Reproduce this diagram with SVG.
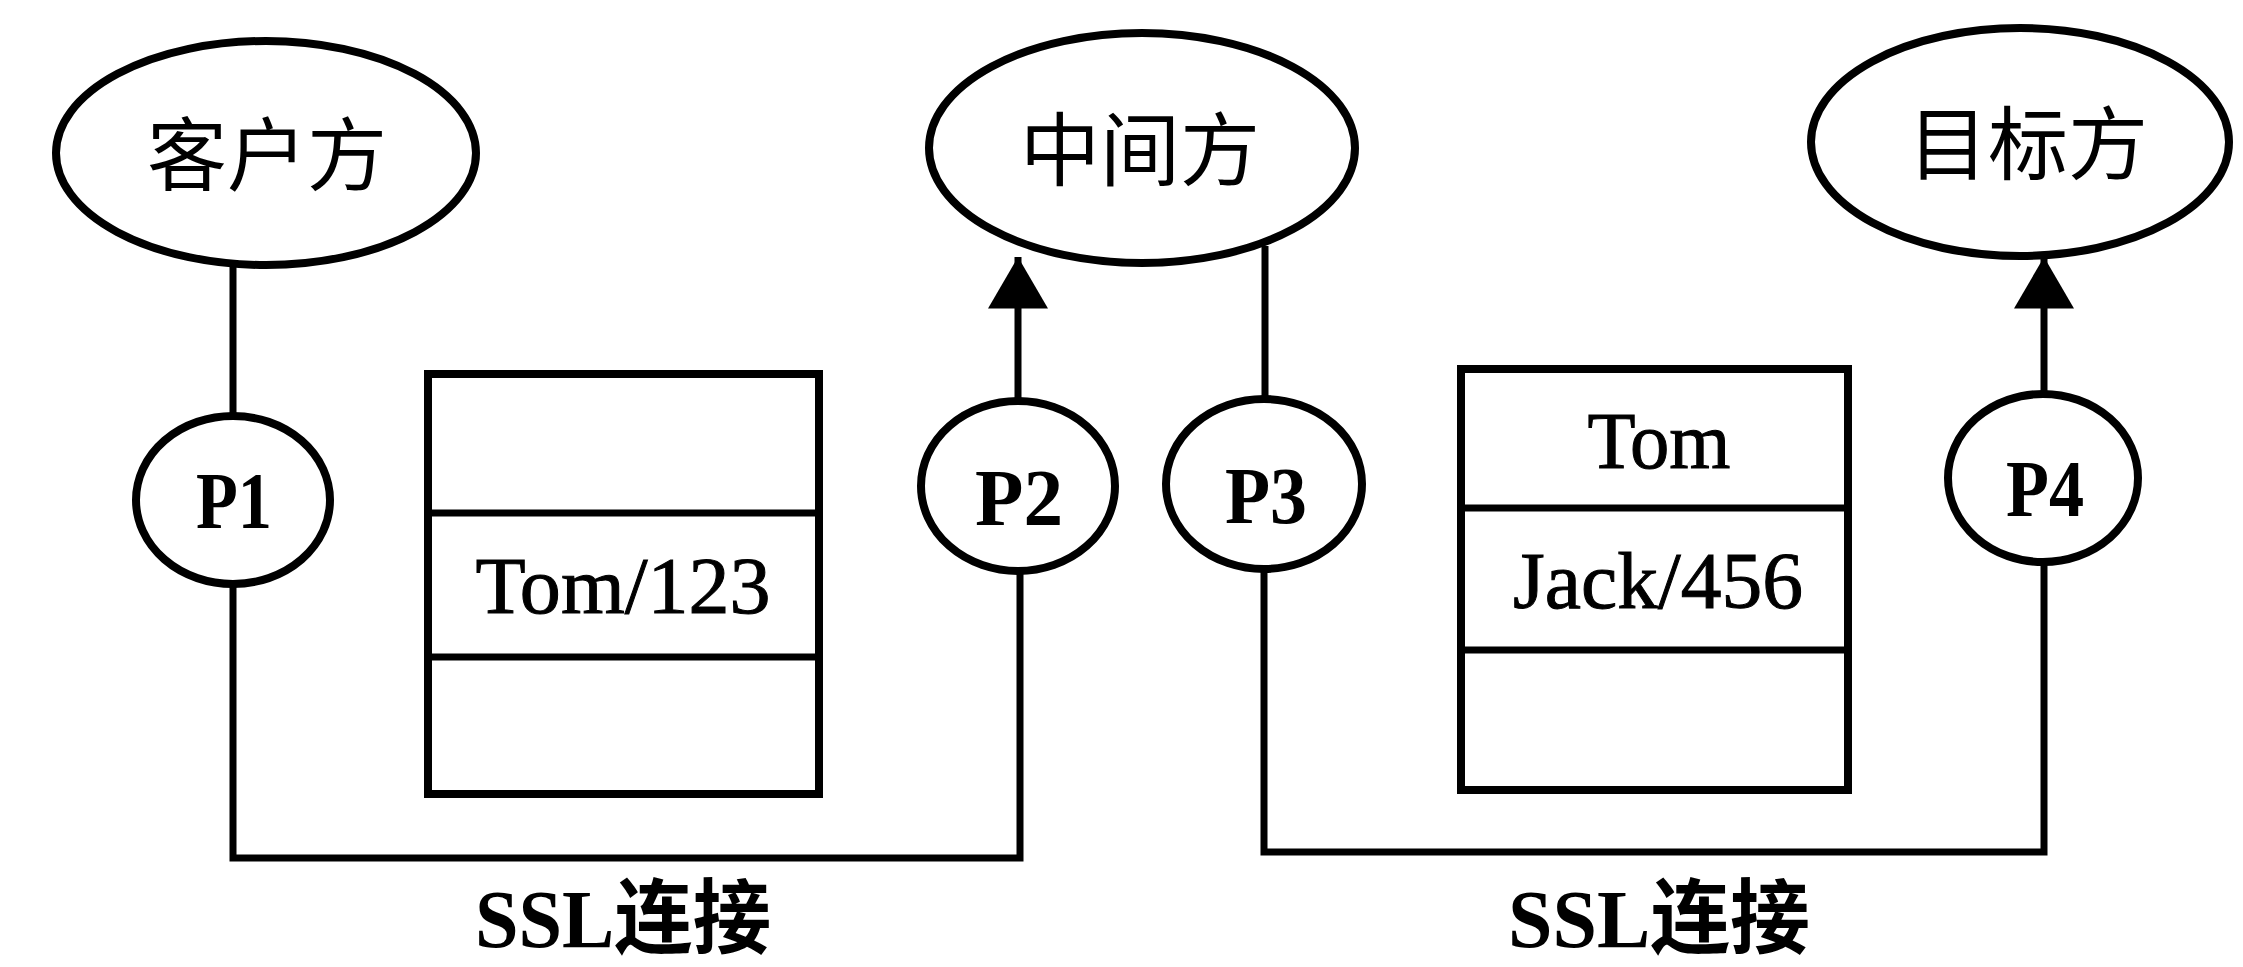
<svg xmlns="http://www.w3.org/2000/svg" width="2243" height="967" viewBox="0 0 2243 967">
<style>
.sh{fill:#fff;stroke:#000;stroke-width:8}
.ln{fill:none;stroke:#000;stroke-width:7}
.cj{font-family:"Noto Sans CJK SC","Noto Sans CJK JP",sans-serif;font-size:80px;fill:#000;text-anchor:middle}
.lt{font-family:"Liberation Serif","Noto Sans CJK SC",serif;font-size:80px;fill:#000;stroke:#000;stroke-width:1;text-anchor:middle}
.pl{font-family:"Liberation Serif",serif;font-size:80px;font-weight:bold;fill:#000;text-anchor:middle}
.ss{font-family:"Liberation Serif","Noto Sans CJK SC",serif;font-size:82px;font-weight:bold;fill:#000;text-anchor:middle}
</style>
<defs>
<marker id="ah" markerUnits="userSpaceOnUse" markerWidth="60" markerHeight="60" viewBox="0 0 48 56" refX="48" refY="28" orient="auto">
<path d="M0,0 L48,28 L0,56 Z" fill="#000"/>
</marker>
</defs>
<rect width="2243" height="967" fill="#fff"/>
<g id="connectors">
<line class="ln" x1="233" y1="262" x2="233" y2="416"/>
<line class="ln" x1="1018" y1="401" x2="1018" y2="257" marker-end="url(#ah)"/>
<line class="ln" x1="1265" y1="246" x2="1265" y2="399"/>
<line class="ln" x1="2044" y1="394" x2="2044" y2="257" marker-end="url(#ah)"/>
<path class="ln" d="M233,584 V858 H1020 V571"/>
<path class="ln" d="M1264,569 V852 H2044 V562"/>
</g>
<g id="client">
<ellipse class="sh" cx="266" cy="153" rx="210" ry="112"/>
<text class="cj" x="267" y="184">客户方</text>
</g>
<g id="middle">
<ellipse class="sh" cx="1142" cy="148" rx="213" ry="115"/>
<text class="cj" x="1140" y="179">中间方</text>
</g>
<g id="target">
<ellipse class="sh" cx="2020" cy="142" rx="209" ry="114"/>
<text class="cj" x="2028" y="173">目标方</text>
</g>
<g id="p1">
<ellipse class="sh" cx="233" cy="500" rx="97" ry="84"/>
<text class="pl" x="234" y="528" textLength="76" lengthAdjust="spacingAndGlyphs">P1</text>
</g>
<g id="p2">
<ellipse class="sh" cx="1018" cy="486" rx="97" ry="85"/>
<text class="pl" x="1019" y="525" textLength="88" lengthAdjust="spacingAndGlyphs">P2</text>
</g>
<g id="p3">
<ellipse class="sh" cx="1264" cy="484" rx="98" ry="85"/>
<text class="pl" x="1266" y="523" textLength="82" lengthAdjust="spacingAndGlyphs">P3</text>
</g>
<g id="p4">
<ellipse class="sh" cx="2043" cy="478" rx="95" ry="84"/>
<text class="pl" x="2045" y="516" textLength="78" lengthAdjust="spacingAndGlyphs">P4</text>
</g>
<g id="box1">
<rect class="sh" x="428" y="374" width="391" height="420"/>
<line class="ln" x1="428" y1="513" x2="819" y2="513"/>
<line class="ln" x1="428" y1="657" x2="819" y2="657"/>
<text class="lt" x="623" y="613" textLength="295" lengthAdjust="spacingAndGlyphs">Tom/123</text>
</g>
<g id="box2">
<rect class="sh" x="1461" y="369" width="387" height="421"/>
<line class="ln" x1="1461" y1="508" x2="1848" y2="508"/>
<line class="ln" x1="1461" y1="650" x2="1848" y2="650"/>
<text class="lt" x="1659" y="468" textLength="143" lengthAdjust="spacingAndGlyphs">Tom</text>
<text class="lt" x="1658" y="608" textLength="290" lengthAdjust="spacingAndGlyphs">Jack/456</text>
</g>
<g id="labels">
<text class="ss" x="623" y="947" textLength="296" lengthAdjust="spacingAndGlyphs">SSL连接</text>
<text class="ss" x="1659" y="947" textLength="302" lengthAdjust="spacingAndGlyphs">SSL连接</text>
</g>
</svg>
